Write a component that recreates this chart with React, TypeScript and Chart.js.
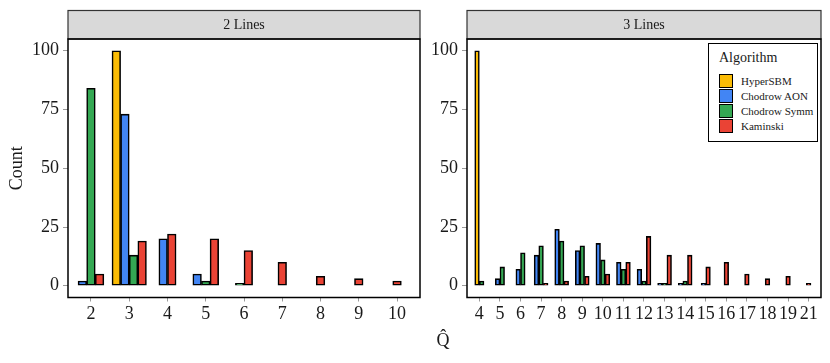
import React, { useEffect, useRef } from 'react';
import { Chart, registerables } from 'chart.js';

Chart.register(...registerables);

// ---------- data ----------
const seriesNames = ['HyperSBM', 'Chodrow AON', 'Chodrow Symm', 'Kaminski'];
const seriesColors = ['#FBBC05', '#4285F4', '#34A853', '#EA4335'];

const twoLinesCategories = ['2', '3', '4', '5', '6', '7', '8', '9', '10'];
const twoLinesHyperSBM = [null, 100, null, null, null, null, null, null, null];
const twoLinesChodrowAON = [2, 73, 20, 5, null, null, null, null, null];
const twoLinesChodrowSymm = [84, 13, null, 2, 1, null, null, null, null];
const twoLinesKaminski = [5, 19, 22, 20, 15, 10, 4, 3, 2];

const threeLinesCategories = ['4', '5', '6', '7', '8', '9', '10', '11', '12', '13', '14', '15', '16', '17', '18', '19', '21'];
const threeLinesHyperSBM = [100, null, null, null, null, null, null, null, null, null, null, null, null, null, null, null, null];
const threeLinesChodrowAON = [null, 3, 7, 13, 24, 15, 18, 10, 7, 1, 1, 1, null, null, null, null, null];
const threeLinesChodrowSymm = [2, 8, 14, 17, 19, 17, 11, 7, 2, 1, 2, null, null, null, null, null, null];
const threeLinesKaminski = [null, null, null, 1, 2, 4, 5, 10, 21, 13, 13, 8, 10, 5, 3, 4, 1];

const yTicks = [0, 25, 50, 75, 100];

const panelTitles = ['2 Lines', '3 Lines'];
const legendTitle = 'Algorithm';
const xTitle = 'Q\u0302';
const yTitle = 'Count';

type Val = number | null;

const panels = [
  { title: panelTitles[0], categories: twoLinesCategories, series: [twoLinesHyperSBM, twoLinesChodrowAON, twoLinesChodrowSymm, twoLinesKaminski] as Val[][] },
  { title: panelTitles[1], categories: threeLinesCategories, series: [threeLinesHyperSBM, threeLinesChodrowAON, threeLinesChodrowSymm, threeLinesKaminski] as Val[][] },
];

const FONT = "'Liberation Serif', 'DejaVu Serif', serif";
const DODGE = 0.9;

// max number of bars in any group over all panels (ggplot preserve = "single")
const maxGroup = Math.max(
  ...panels.flatMap((p) => p.categories.map((_, i) => p.series.filter((s) => s[i] !== null && s[i] !== undefined).length))
);
const barUnit = DODGE / maxGroup;

function buildDatasets(categories: string[], series: Val[][]) {
  const data: { x: number; y: number }[][] = series.map(() => []);
  categories.forEach((_, i) => {
    const present = series.map((s, k) => (s[i] !== null && s[i] !== undefined ? k : -1)).filter((k) => k >= 0);
    const n = present.length;
    present.forEach((k, j) => {
      data[k].push({ x: i + (j - (n - 1) / 2) * barUnit, y: series[k][i] as number });
    });
  });
  return series.map((_, k) => ({
    label: seriesNames[k],
    data: data[k],
    backgroundColor: seriesColors[k],
    borderColor: '#000',
    borderWidth: 1.6,
    borderSkipped: false as const,
    grouped: false,
    categoryPercentage: 1,
    barPercentage: 1,
  }));
}

function framePlugin(title: string) {
  return {
    id: 'frame',
    afterDraw(chart: any) {
      const { ctx, chartArea } = chart;
      const { left, right, top, bottom } = chartArea;
      ctx.save();
      // strip
      const stripTop = 10.5;
      ctx.fillStyle = '#D9D9D9';
      ctx.fillRect(left, stripTop, right - left, top - stripTop);
      ctx.strokeStyle = '#333333';
      ctx.lineWidth = 1.2;
      ctx.strokeRect(left, stripTop, right - left, top - stripTop);
      ctx.fillStyle = '#1a1a1a';
      ctx.font = `14px ${FONT}`;
      ctx.textAlign = 'center';
      ctx.textBaseline = 'middle';
      ctx.fillText(title, (left + right) / 2, (stripTop + top) / 2 + 1);
      // panel border
      ctx.strokeStyle = '#000';
      ctx.lineWidth = 1.5;
      ctx.strokeRect(left, top, right - left, bottom - top);
      ctx.restore();
    },
  };
}

function Panel({ index, width, yAxisWidth, padRight, left }: { index: number; width: number; yAxisWidth: number; padRight: number; left: number }) {
  const ref = useRef<HTMLCanvasElement | null>(null);
  useEffect(() => {
    const p = panels[index];
    const cats = p.categories;
    const chart = new Chart(ref.current as HTMLCanvasElement, {
      type: 'bar',
      data: { datasets: buildDatasets(cats, p.series) as any },
      options: {
        animation: false,
        responsive: false,
        maintainAspectRatio: false,
        devicePixelRatio: 1,
        layout: { padding: { top: 39, right: padRight, left: 0, bottom: 0 } },
        plugins: { legend: { display: false }, tooltip: { enabled: false }, title: { display: false } },
        scales: {
          x: {
            type: 'linear',
            offset: false,
            min: -0.6,
            max: cats.length - 1 + 0.6,
            afterBuildTicks: (axis: any) => {
              axis.ticks = cats.map((_, i) => ({ value: i }));
            },
            afterFit: (scale: any) => {
              scale.height = 363 - 297.5;
            },
            ticks: {
              autoSkip: false,
              maxRotation: 0,
              padding: 2,
              color: '#1a1a1a',
              font: { family: FONT, size: 18 },
              callback: (v: any) => cats[Math.round(Number(v))],
            },
            grid: { offset: false, drawOnChartArea: false, drawTicks: true, tickLength: 4, color: '#9a9a9a', lineWidth: 1 },
            border: { display: false },
          },
          y: {
            type: 'linear',
            min: -5,
            max: 105,
            afterBuildTicks: (axis: any) => {
              axis.ticks = yTicks.map((v) => ({ value: v }));
            },
            afterFit: (scale: any) => {
              scale.width = yAxisWidth;
            },
            title: {
              display: index === 0,
              text: yTitle,
              color: '#1a1a1a',
              font: { family: FONT, size: 18 },
              padding: { top: 6, bottom: 0 },
            },
            ticks: {
              padding: 4,
              color: '#1a1a1a',
              font: { family: FONT, size: 18 },
            },
            grid: { drawOnChartArea: false, drawTicks: true, tickLength: 5, color: '#9a9a9a', lineWidth: 1 },
            border: { display: false },
          },
        },
      },
      plugins: [framePlugin(p.title)],
    });
    return () => chart.destroy();
  }, [index]);
  return (
    <canvas
      ref={ref}
      width={width}
      height={363}
      style={{ position: 'absolute', left, top: 0, width, height: 363 }}
    />
  );
}

function Legend() {
  return (
    <div
      style={{
        position: 'absolute',
        left: 708,
        top: 43,
        width: 110,
        height: 99,
        boxSizing: 'border-box',
        border: '1.2px solid #000',
        background: '#fff',
        fontFamily: FONT,
        color: '#1a1a1a',
      }}
    >
      <div style={{ position: 'absolute', left: 10, top: 6, fontSize: 14, lineHeight: '16px' }}>{legendTitle}</div>
      {seriesNames.map((name, k) => (
        <div key={name} style={{ position: 'absolute', left: 10, top: 29 + k * 15, height: 15, display: 'flex', alignItems: 'center' }}>
          <div
            style={{
              width: 14,
              height: 14,
              boxSizing: 'border-box',
              background: seriesColors[k],
              border: '1.5px solid #000',
            }}
          />
          <span style={{ marginLeft: 8, fontSize: 11 }}>{name}</span>
        </div>
      ))}
    </div>
  );
}

export default function App() {
  return (
    <div style={{ position: 'absolute', left: 0, top: 0, width: 830, height: 363, background: '#fff', overflow: 'hidden' }}>
      <Panel index={0} width={425} yAxisWidth={68} padRight={5} left={0} />
      <Panel index={1} width={405} yAxisWidth={42} padRight={9} left={425} />
      <Legend />
      <div
        style={{
          position: 'absolute',
          left: 443,
          top: 340,
          transform: 'translate(-50%, -50%)',
          fontFamily: FONT,
          fontSize: 18,
          color: '#1a1a1a',
          whiteSpace: 'nowrap',
        }}
      >
        {xTitle}
      </div>
    </div>
  );
}
